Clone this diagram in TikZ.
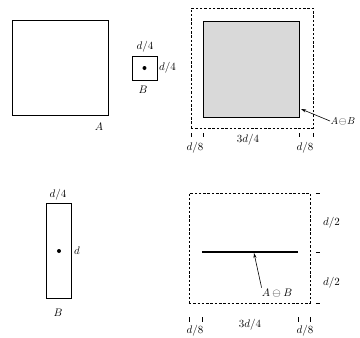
\documentclass[tikz,border=0pt]{standalone}
\usetikzlibrary{arrows.meta}
\begin{document}
\begin{tikzpicture}[x=1pt,y=-1pt,
  box/.style={draw, line width=0.6pt, inner sep=0pt, outer sep=0pt},
  dbox/.style={draw, line width=0.6pt, dash pattern=on 2.5pt off 1.8pt, inner sep=0pt, outer sep=0pt},
  lab/.style={inner sep=1pt, font=\fontsize{10.5}{12}\selectfont},
  tick/.style={line width=0.4pt},
  arr/.style={line width=0.6pt, -{Stealth[length=5pt,width=3pt]}},
  dotc/.style={circle, fill=black, inner sep=0pt, minimum size=4pt}]
\useasboundingbox (0,0) rectangle (360,338);
% --- A
\node[box, minimum width=96pt, minimum height=95pt] (A) at (60,67.5) {};
\node[lab] (Alab) at (99,127) {$A$};
% --- small B
\node[box, minimum width=25pt, minimum height=24pt] (B1) at (144.5,68) {};
\node[dotc] (B1dot) at (144.5,68) {};
\node[lab] (B1top) at (145,47) {$d/4$};
\node[lab, anchor=west] (B1right) at (158,68) {$d/4$};
\node[lab] (B1lab) at (143,90) {$B$};
% --- top right erosion
\node[dbox, minimum width=122pt, minimum height=120pt] (D1) at (252,68) {};
\node[box, fill=gray!30, minimum width=96pt, minimum height=96pt] (E1) at (251,69) {};
\coordinate (E1tip) at (301,109);
\node[lab, anchor=west, inner sep=0.5pt, font=\fontsize{10}{12}\selectfont] (E1lab) at (330,121) {$A\!\ominus\! B$};
\draw[arr] (E1lab.west) -- (E1tip);
\foreach \x in {191,203,299,313} \draw[tick] (\x,133) -- (\x,137);
\node[lab] (t1a) at (195,148) {$d/8$};
\node[lab] (t1b) at (248,140) {$3d/4$};
\node[lab] (t1c) at (305,148) {$d/8$};
% --- tall B
\node[box, minimum width=25pt, minimum height=95pt] (B2) at (58.5,250.5) {};
\node[dotc] (B2dot) at (59,251) {};
\node[lab] (B2top) at (58,195) {$d/4$};
\node[lab, anchor=west] (B2right) at (73,251) {$d$};
\node[lab] (B2lab) at (58,313) {$B$};
% --- bottom right erosion
\node[dbox, minimum width=121pt, minimum height=110pt] (D2) at (249.5,248) {};
\coordinate (L1) at (202,252);
\coordinate (L2) at (298,252);
\draw[line width=1.2pt] (L1) -- (L2);
\coordinate (E2tip) at (254,253);
\node[lab] (E2lab) at (277,293) {$A\ominus B$};
\draw[arr] (E2lab.north west) ++(1,0) -- (E2tip);
\foreach \y in {193,252,303} \draw[tick] (316,\y) -- (320,\y);
\node[lab, anchor=west] (h1) at (322,223) {$d/2$};
\node[lab, anchor=west] (h2) at (322,283) {$d/2$};
\foreach \x in {189,202,298,310} \draw[tick] (\x,317) -- (\x,322);
\node[lab] (t2a) at (195,331) {$d/8$};
\node[lab] (t2b) at (250,325) {$3d/4$};
\node[lab] (t2c) at (305,331) {$d/8$};
\end{tikzpicture}
\end{document}
